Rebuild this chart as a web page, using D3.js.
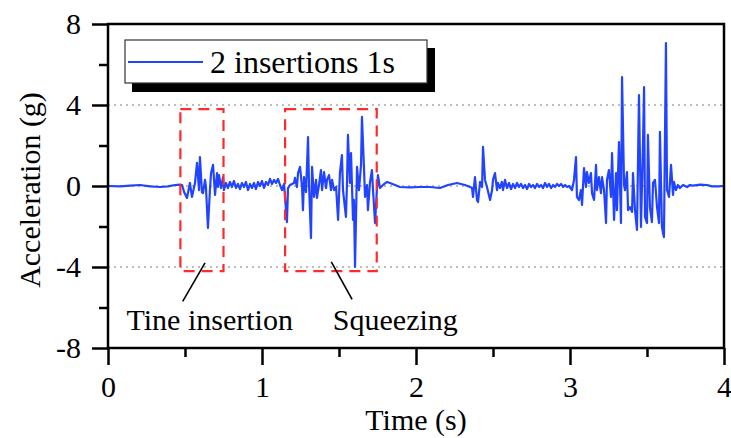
<!DOCTYPE html>
<html><head><meta charset="utf-8">
<script src="https://cdn.jsdelivr.net/npm/d3@7/dist/d3.min.js"></script>
<style>body{margin:0;background:#fff}svg{display:block}</style>
</head><body>
<script>
// ---- Data ----
const timeS = [
0.000,0.078,0.143,0.208,0.273,0.338,0.390,0.435,0.468,
0.481,0.494,0.513,0.532,0.545,0.565,0.578,0.591,0.597,0.610,0.617,0.630,0.636,0.649,0.662,0.669,0.682,0.695,0.708,0.714,0.721,0.734,0.747,0.753,
0.766,0.779,0.792,0.805,0.818,0.831,0.844,0.857,0.870,0.883,0.896,0.909,0.922,0.935,0.948,0.961,0.974,0.987,1.000,1.013,1.026,1.039,1.052,1.065,1.078,1.091,1.104,1.117,1.130,1.143,
1.149,1.162,1.169,1.182,1.195,1.208,1.214,1.227,1.234,1.247,1.260,1.266,1.273,1.286,1.299,1.305,1.318,1.325,1.338,1.351,1.357,1.370,1.383,1.390,1.403,1.416,1.422,1.435,1.448,1.455,1.468,1.481,1.494,1.506,1.519,1.526,1.545,1.552,1.558,1.571,1.578,1.591,1.597,1.604,1.617,1.630,1.643,1.649,1.662,1.669,1.682,1.688,1.701,1.714,1.721,1.734,1.747,1.753,1.766,1.786,1.812,1.831,1.864,1.896,1.961,2.026,2.091,2.156,2.208,2.266,2.318,2.351,
2.364,2.370,2.383,2.396,2.403,2.416,2.429,2.435,2.448,2.461,2.481,2.494,2.500,2.513,2.526,2.532,2.545,2.558,2.565,2.578,
2.591,2.604,2.617,2.630,2.643,2.656,2.669,2.682,2.695,2.708,2.721,2.734,2.747,2.760,2.773,2.786,2.799,2.812,2.825,2.838,2.851,2.864,2.877,2.890,2.903,2.916,2.929,2.942,2.955,2.968,2.981,2.994,
3.013,3.026,3.039,3.045,3.058,3.071,3.078,3.091,3.104,3.110,3.123,3.136,3.143,3.156,3.169,3.175,3.188,3.201,3.208,3.221,3.234,3.240,3.253,3.266,3.273,3.286,3.299,3.305,3.318,3.331,3.338,3.351,3.357,3.370,3.377,3.390,3.403,3.409,3.422,3.435,3.448,3.461,3.474,3.481,3.487,3.500,3.506,3.519,3.532,3.539,3.552,3.565,3.578,3.584,3.597,3.604,3.610,3.623,3.630,3.643,3.656,3.669,3.675,3.688,3.701,3.714,3.734,3.760,3.779,3.799,3.844,3.890,3.922,3.961,4.000
];
const accelG = [
0.00,-0.02,0.02,0.05,-0.02,-0.05,-0.02,0.05,0.07,
0.05,-0.30,-0.59,0.15,-0.54,0.15,1.14,-0.20,1.43,-0.30,-0.35,0.30,-0.05,-2.07,-0.20,0.64,1.04,-0.44,0.64,-0.05,0.54,-0.10,0.44,-0.20,
0.15,-0.10,0.20,-0.05,0.25,-0.10,0.10,-0.15,0.15,-0.05,0.20,-0.20,0.10,-0.10,0.15,-0.15,0.20,0.00,0.25,-0.10,0.20,0.05,0.35,0.10,0.30,0.15,0.35,0.05,-0.20,0.10,
-0.49,-1.78,-0.10,0.05,0.10,0.15,0.40,-0.05,0.64,0.94,-0.05,-1.19,0.44,-0.30,2.42,0.15,-2.57,0.94,-0.54,0.30,-0.59,0.05,0.79,-0.20,0.69,-0.10,0.30,0.54,-0.20,0.30,-0.20,-0.05,-1.68,0.64,1.53,-0.20,-1.53,0.15,2.52,0.15,1.63,-1.68,-0.69,-4.00,0.94,-0.20,1.04,3.41,0.94,-0.54,0.05,-1.19,0.15,0.79,-0.20,-1.83,-0.05,0.54,-0.10,0.05,0.20,0.15,0.05,-0.05,-0.07,-0.05,-0.05,-0.10,0.05,0.15,0.05,-0.05,
-0.10,-0.54,0.44,-0.69,-0.79,0.20,-0.05,1.93,0.30,-0.05,-0.69,-0.20,0.30,0.64,-0.20,0.15,-0.10,0.20,-0.20,0.30,
-0.10,0.15,-0.15,0.10,-0.10,0.15,-0.05,0.10,-0.10,0.05,-0.15,0.10,-0.05,0.05,-0.10,0.10,-0.05,0.05,-0.10,0.15,-0.05,0.10,-0.10,0.05,-0.05,0.10,0.00,0.10,-0.05,0.05,-0.05,0.00,
-0.20,0.30,1.43,-0.54,-0.69,-0.20,-0.94,0.89,-0.05,0.69,0.15,0.64,-0.35,-0.69,1.04,-0.20,0.44,-0.35,0.44,-0.20,-1.83,0.30,0.79,-0.54,1.63,-1.68,0.64,-1.19,2.17,-1.83,5.38,0.05,-0.20,0.69,-1.19,-1.04,-1.28,0.64,-1.19,-2.17,4.49,-2.02,2.12,4.89,-1.53,-1.83,2.52,-1.04,-1.78,0.15,0.30,-1.04,-1.83,2.67,-2.02,-2.32,-2.52,7.06,-0.20,-0.54,1.04,-0.44,0.20,-0.20,0.05,-0.10,0.05,-0.05,0.05,0.02,0.07,0.05,-0.02,-0.02,0.00
];
const seriesName = "2 insertions 1s";
const xTicks = [0,1,2,3,4];
const xMinorTicks = [0.5,1.5,2.5,3.5];
const yTicks = [-8,-4,0,4,8];
const yMinorTicks = [-6,-2,2,6];
const gridLines = [-4,0,4];
const boxes = [ {t0:0.47, t1:0.75, a0:-4.2, a1:3.8, label:"Tine insertion"},
                {t0:1.15, t1:1.745, a0:-4.2, a1:3.8, label:"Squeezing"} ];

// ---- Drawing ----
const W = 731, H = 438;
const svg = d3.select("body").append("svg").attr("width", W).attr("height", H);
const x = d3.scaleLinear().domain([0,4]).range([108,724]);
const y = d3.scaleLinear().domain([-8,8]).range([348,24]);
const font = "'Liberation Serif','Times New Roman',serif";
const blue = "#2244ff";

// grid
svg.append("g").selectAll("line").data(gridLines).join("line")
  .attr("x1", x(0)).attr("x2", x(4)).attr("y1", d=>y(d)).attr("y2", d=>y(d))
  .attr("stroke", "#a8a8a8").attr("stroke-width", 1.5).attr("stroke-dasharray", "2,4");

// signal
const pts = timeS.map((t,i)=>[t, accelG[i]]);
svg.append("path").datum(pts)
  .attr("fill","none").attr("stroke", blue).attr("stroke-width", 2.2)
  .attr("stroke-linejoin","round")
  .attr("d", d3.line().x(d=>x(d[0])).y(d=>y(d[1])));

// red dashed boxes
svg.append("g").selectAll("rect").data(boxes).join("rect")
  .attr("x", d=>x(d.t0)).attr("y", d=>y(d.a1))
  .attr("width", d=>x(d.t1)-x(d.t0)).attr("height", d=>y(d.a0)-y(d.a1))
  .attr("fill","none").attr("stroke","#ff2a2a").attr("stroke-width",2.2)
  .attr("stroke-dasharray","11,7");

// annotation lines and labels
const ann = [ {x1:0.63, y1:-3.8, x2:0.485, y2:-5.7, tx:0.12, ty:-7.12, label:boxes[0].label},
              {x1:1.45, y1:-3.75, x2:1.585, y2:-5.6, tx:1.46, ty:-7.12, label:boxes[1].label} ];
svg.append("g").selectAll("line").data(ann).join("line")
  .attr("x1", d=>x(d.x1)).attr("y1", d=>y(d.y1)).attr("x2", d=>x(d.x2)).attr("y2", d=>y(d.y2))
  .attr("stroke","#000").attr("stroke-width",1.6);
svg.append("g").selectAll("text").data(ann).join("text")
  .attr("x", d=>x(d.tx)).attr("y", d=>y(d.ty))
  .attr("font-family", font).attr("font-size", 30).attr("fill","#000")
  .text(d=>d.label);

// frame
svg.append("rect").attr("x", x(0)).attr("y", y(8)).attr("width", x(4)-x(0)).attr("height", y(-8)-y(8))
  .attr("fill","none").attr("stroke","#000").attr("stroke-width",2.5);

// axes
function styleAxis(g){ g.select(".domain").remove(); g.selectAll("line").attr("stroke","#000").attr("stroke-width",2.5);
  g.selectAll("text").attr("font-family", font).attr("font-size", 30).attr("fill","#000"); }
const fmt = d => String(d);
svg.append("g").attr("transform",`translate(0,${y(-8)})`)
  .call(d3.axisBottom(x).tickValues(xTicks).tickSize(17).tickPadding(11).tickFormat(fmt))
  .call(styleAxis);
svg.append("g").attr("transform",`translate(0,${y(-8)})`)
  .call(d3.axisBottom(x).tickValues(xMinorTicks).tickSize(9).tickFormat(""))
  .call(styleAxis);
svg.append("g").attr("transform",`translate(${x(0)},0)`)
  .call(d3.axisLeft(y).tickValues(yTicks).tickSize(16).tickPadding(11).tickFormat(fmt))
  .call(styleAxis);
svg.append("g").attr("transform",`translate(${x(0)},0)`)
  .call(d3.axisLeft(y).tickValues(yMinorTicks).tickSize(9).tickFormat(""))
  .call(styleAxis);

// axis titles
svg.append("text").attr("x", (x(0)+x(4))/2).attr("y", 430).attr("text-anchor","middle")
  .attr("font-family", font).attr("font-size", 30).text("Time (s)");
svg.append("text").attr("transform","translate(40,190) rotate(-90)").attr("text-anchor","middle")
  .attr("font-family", font).attr("font-size", 30).text("Acceleration (g)");

// legend
const lg = svg.append("g");
lg.append("rect").attr("x",132).attr("y",48).attr("width",303).attr("height",44).attr("fill","#000");
lg.append("rect").attr("x",125).attr("y",40).attr("width",302).attr("height",43).attr("fill","#fff")
  .attr("stroke","#333").attr("stroke-width",1.2);
lg.append("line").attr("x1",128).attr("x2",203).attr("y1",62).attr("y2",62).attr("stroke",blue).attr("stroke-width",2);
lg.append("text").attr("x",210).attr("y",73).attr("font-family",font).attr("font-size",32).text(seriesName);
</script>
</body></html>
